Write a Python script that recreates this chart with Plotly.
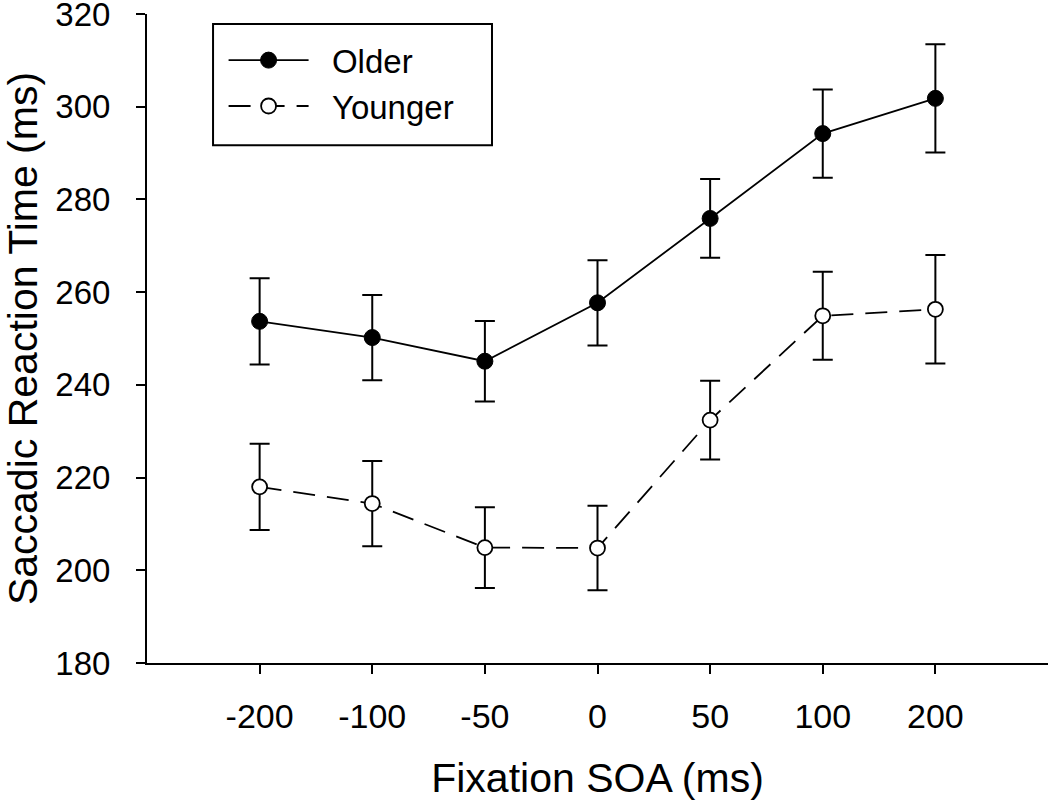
import plotly.graph_objects as go

soa_labels = ["-200", "-100", "-50", "0", "50", "100", "200"]
positions = [0, 1, 2, 3, 4, 5, 6]

older_rt = [253.7, 250.2, 245.1, 257.7, 275.9, 294.2, 301.8]
older_err = [9.3, 9.2, 8.7, 9.2, 8.5, 9.5, 11.7]

younger_rt = [218.0, 214.4, 204.9, 204.8, 232.4, 254.9, 256.3]
younger_err = [9.3, 9.2, 8.7, 9.1, 8.5, 9.5, 11.7]

y_ticks = [180, 200, 220, 240, 260, 280, 300, 320]

FONT = "Liberation Sans, Arial, sans-serif"
NB = "\u00a0"

fig = go.Figure()
fig.add_trace(go.Scatter(
    x=positions, y=older_rt, name=NB * 2 + "Older", mode="lines+markers",
    line=dict(color="black", width=1.8),
    marker=dict(color="black", size=16, line=dict(color="black", width=1)),
    error_y=dict(type="data", array=older_err, visible=True,
                 color="black", thickness=2, width=10),
))
fig.add_trace(go.Scatter(
    x=positions, y=younger_rt, name=NB * 2 + "Younger", mode="lines+markers",
    line=dict(color="black", width=1.8, dash="22px,12px"),
    marker=dict(color="white", size=15, line=dict(color="black", width=1.8)),
    error_y=dict(type="data", array=younger_err, visible=True,
                 color="black", thickness=2, width=10),
))

# legend frame
fig.add_shape(type="rect", xref="paper", yref="paper",
              x0=0.0733, x1=0.3829, y0=0.7977, y1=0.9846,
              line=dict(color="black", width=2), fillcolor="rgba(0,0,0,0)", layer="above")

fig.update_layout(
    width=1050, height=801,
    margin=dict(l=147, r=2, t=14, b=138),
    paper_bgcolor="white", plot_bgcolor="white",
    font=dict(family=FONT, color="black", size=33),
    showlegend=True,
    legend=dict(
        x=0.085, y=0.972, xanchor="left", yanchor="top",
        borderwidth=0, bgcolor="rgba(0,0,0,0)",
        font=dict(size=33, family=FONT), itemwidth=80,
        tracegroupgap=0,
    ),
)
fig.update_xaxes(
    range=[-1, 7], tickmode="array", tickvals=positions, ticktext=soa_labels,
    showline=True, linecolor="black", linewidth=2,
    ticks="outside", ticklen=9, tickwidth=2, tickcolor="black",
    showgrid=False, zeroline=False, automargin=False,
    tickfont=dict(size=34, family=FONT), ticklabelstandoff=13,
    ticklabeloverflow="allow",
    title=dict(text="Fixation SOA (ms)", font=dict(size=41, family=FONT), standoff=30),
)
fig.update_yaxes(
    range=[180, 320], tickmode="array", tickvals=y_ticks,
    showline=True, linecolor="black", linewidth=2,
    ticks="outside", ticklen=9, tickwidth=2, tickcolor="black",
    showgrid=False, zeroline=False, automargin=False,
    tickfont=dict(size=33, family=FONT), ticklabelstandoff=19,
    ticklabeloverflow="allow",
    title=dict(text="Saccadic Reaction Time (ms)", font=dict(size=41, family=FONT), standoff=14),
)

fig.write_html("out.html", config={"displayModeBar": False},
               post_script="document.body.style.margin='0px';")
